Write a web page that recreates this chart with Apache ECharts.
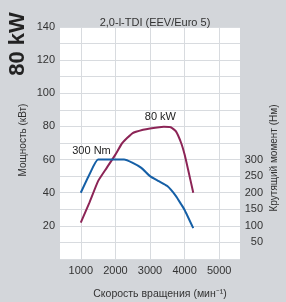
<!DOCTYPE html>
<html lang="ru">
<head>
    <meta charset="UTF-8">
    <title>2,0-l-TDI</title>
    <script src="https://cdn.jsdelivr.net/npm/echarts@6/dist/echarts.min.js"></script>
    <style>
        html, body { margin: 0; padding: 0; background: #d3d6da; }
        #container { width: 286px; height: 302px; }
    </style>
</head>
<body>
<div id="container"></div>
<script>
    // rpm / kW
    var powerRpm = [1000, 1250, 1500, 1750, 2000, 2200, 2500, 2800, 3000, 3400, 3600, 3750, 3900, 4000, 4100, 4250];
    var powerKw = [22, 34, 47, 55, 63, 70, 76, 78, 78.8, 79.8, 79.5, 77, 70, 63, 54, 40];
    // rpm / Nm
    var torqueRpm = [1000, 1250, 1500, 2250, 2500, 2750, 3000, 3250, 3500, 3750, 3900, 4000, 4250];
    var torqueNm = [200, 255, 300, 300, 290, 275, 250, 235, 220, 190, 165, 148, 93];
    var rpmTicks = [1000, 2000, 3000, 4000, 5000];

    var textColor = '#333';
    var gridColor = '#d8dbdf';
    var font = 'Liberation Sans';

    function pairs(xs, ys) {
        var out = [];
        for (var i = 0; i < xs.length; i++) {
            out.push([xs[i], ys[i]]);
        }
        return out;
    }

    var chart = echarts.init(document.getElementById('container'));
    chart.setOption({
        animation: false,
        backgroundColor: '#d3d6da',
        textStyle: { fontFamily: font },
        grid: {
            left: 60, top: 27, right: 46, bottom: 43,
            show: true, backgroundColor: '#fff', borderWidth: 0
        },
        title: {
            text: '2,0-l-TDI (EEV/Euro 5)',
            left: 150, top: 12, textAlign: 'center',
            textStyle: { fontSize: 11, fontWeight: 'normal', color: textColor, fontFamily: font }
        },
        graphic: [
            {
                type: 'text', x: 18, y: 44, rotation: Math.PI / 2,
                style: { text: '80 kW', font: 'bold 22px ' + font, fill: '#222', align: 'center', verticalAlign: 'middle' }
            },
            {
                type: 'text', x: 23, y: 140, rotation: Math.PI / 2,
                style: { text: 'Мощность (кВт)', font: '10px ' + font, fill: textColor, align: 'center', verticalAlign: 'middle' }
            },
            {
                type: 'text', x: 274, y: 158, rotation: Math.PI / 2,
                style: { text: 'Крутящий момент (Нм)', font: '10px ' + font, fill: textColor, align: 'center', verticalAlign: 'middle' }
            },
            {
                type: 'text', x: 160, y: 294,
                style: { text: 'Скорость вращения (мин⁻¹)', font: '10.5px ' + font, fill: textColor, align: 'center', verticalAlign: 'middle' }
            }
        ],
        xAxis: {
            type: 'value', min: 400, max: 5600,
            axisLine: { show: false },
            axisTick: { show: false, customValues: rpmTicks },
            axisLabel: {
                customValues: rpmTicks, color: textColor, fontSize: 11, margin: 6,
                formatter: function (v) { return String(v); }
            },
            splitLine: { show: true, lineStyle: { color: gridColor } }
        },
        yAxis: [
            {
                type: 'value', min: 0, max: 140, interval: 10,
                axisLine: { show: false },
                axisTick: { show: false },
                axisLabel: {
                    color: textColor, fontSize: 11, margin: 5,
                    formatter: function (v) { return (v > 0 && v % 20 === 0) ? v : ''; }
                },
                splitLine: { show: true, lineStyle: { color: gridColor } }
            },
            {
                type: 'value', min: 0, max: 700, interval: 50, position: 'right',
                axisLine: { show: false },
                axisTick: { show: false },
                axisLabel: {
                    color: textColor, fontSize: 11, margin: 23, align: 'right',
                    formatter: function (v) { return (v > 0 && v <= 300) ? v : ''; }
                },
                splitLine: { show: false }
            }
        ],
        series: [
            {
                type: 'line', yAxisIndex: 0, data: pairs(powerRpm, powerKw),
                showSymbol: false, smooth: 0.15,
                lineStyle: { color: '#8c2456', width: 2 },
                markPoint: {
                    symbolSize: 0,
                    label: { show: true, formatter: '{b}', color: '#222', fontSize: 11, position: 'inside' },
                    data: [{ name: '80 kW', coord: [3300, 86] }]
                }
            },
            {
                type: 'line', yAxisIndex: 1, data: pairs(torqueRpm, torqueNm),
                showSymbol: false, smooth: 0.15,
                lineStyle: { color: '#155fa6', width: 2 },
                markPoint: {
                    symbolSize: 0,
                    label: { show: true, formatter: '{b}', color: '#222', fontSize: 11, position: 'inside' },
                    data: [{ name: '300 Nm', coord: [1310, 326] }]
                }
            }
        ]
    });
</script>
</body>
</html>
